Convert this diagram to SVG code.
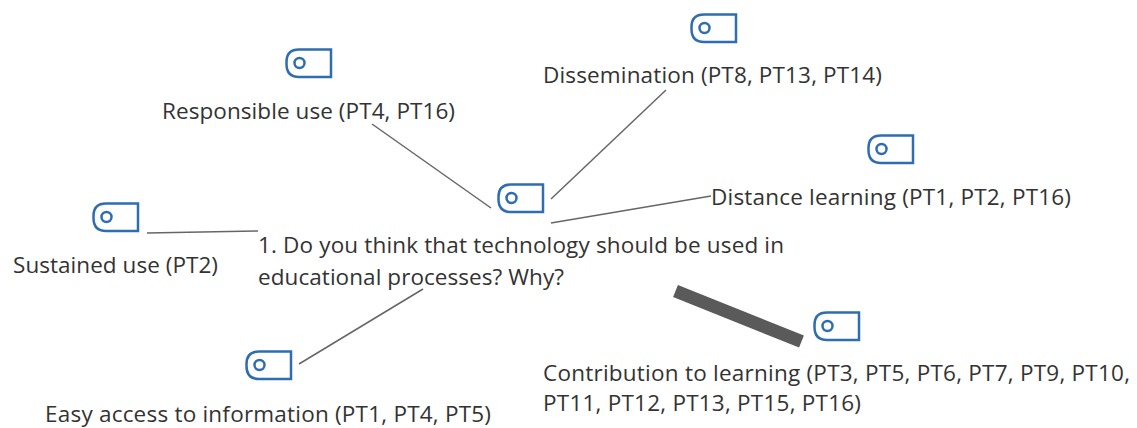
<svg xmlns="http://www.w3.org/2000/svg" width="1137" height="428" viewBox="0 0 1137 428">
<style>
text{font-family:"Open Sans","Noto Sans","Liberation Sans",sans-serif;font-size:22.5px;fill:#333}
.ic path,.ic circle{fill:none;stroke:#2e6db0;stroke-width:2.5}
.l{stroke:#666;stroke-width:1.5;fill:none}
</style>
<defs><g id="icon" class="ic"><path d="M14 1.5H46V29H14Q1.500 29 1.500 16V14Q1.500 1.500 14 1.500Z"/><circle cx="14.500" cy="15" r="5"/></g></defs>
<rect width="1137" height="428" fill="#fff"/>
<g id="connectors">
<line class="l" x1="372" y1="124" x2="491" y2="208"/>
<line class="l" x1="666" y1="90" x2="551" y2="199"/>
<line class="l" x1="711" y1="196" x2="551" y2="223"/>
<line class="l" x1="147" y1="233" x2="258" y2="231"/>
<line class="l" x1="423" y1="289" x2="299" y2="364"/>
<line x1="675.5" y1="291" x2="801.5" y2="341.5" stroke="#5a5a5a" stroke-width="13"/>
</g>
<g id="n1"><use href="#icon" x="285" y="48"/><text x="162" y="119" textLength="293">Responsible use (PT4, PT16)</text></g>
<g id="n2"><use href="#icon" x="690" y="13"/><text x="543" y="83" textLength="339">Dissemination (PT8, PT13, PT14)</text></g>
<g id="n3"><use href="#icon" x="867" y="134"/><text x="711" y="205" textLength="360">Distance learning (PT1, PT2, PT16)</text></g>
<g id="n4"><use href="#icon" x="92" y="202"/><text x="13" y="273" textLength="205">Sustained use (PT2)</text></g>
<g id="center"><use href="#icon" x="497" y="183"/><text x="258" y="253" textLength="526">1. Do you think that technology should be used in</text><text x="258" y="285" textLength="306">educational processes? Why?</text></g>
<g id="n5"><use href="#icon" x="245" y="350"/><text x="45" y="422" textLength="446">Easy access to information (PT1, PT4, PT5)</text></g>
<g id="n6"><use href="#icon" x="813" y="311"/><text x="543" y="381" textLength="587">Contribution to learning (PT3, PT5, PT6, PT7, PT9, PT10,</text><text x="543" y="411" textLength="318">PT11, PT12, PT13, PT15, PT16)</text></g>
</svg>
